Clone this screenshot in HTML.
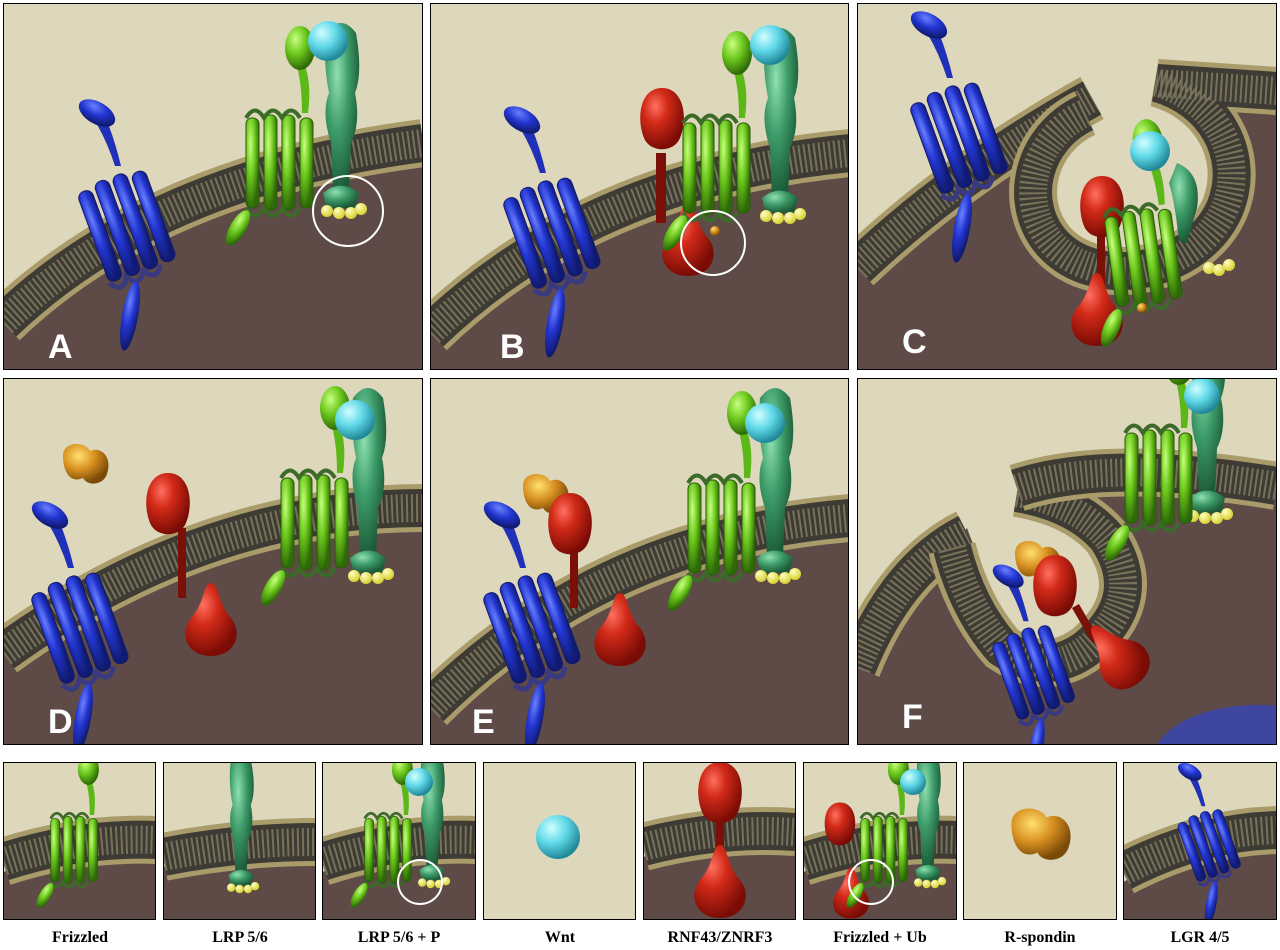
<!DOCTYPE html>
<html><head><meta charset="utf-8"><style>
body{margin:0;background:#fff;width:1280px;height:950px;overflow:hidden}
svg{display:block}
.mo{fill:none;stroke:#a99b6a;stroke-width:48;stroke-linecap:butt}
.mi{fill:none;stroke:#3d3b33;stroke-width:38;stroke-linecap:butt}
.md{fill:none;stroke:#77725a;stroke-width:28;stroke-dasharray:2 3}
.lab{font-family:"Liberation Serif",serif;font-weight:bold;font-size:16px;fill:#000}
.let{font-family:"Liberation Sans",sans-serif;font-weight:bold;font-size:34px;fill:#fff}
</style></head><body>
<svg width="1280" height="950" viewBox="0 0 1280 950">
<defs>
<radialGradient id="gr" cx="35%" cy="30%" r="70%"><stop offset="0" stop-color="#ff7060"/><stop offset=".4" stop-color="#d22a18"/><stop offset="1" stop-color="#7a0c05"/></radialGradient>
<radialGradient id="gb" cx="35%" cy="30%" r="70%"><stop offset="0" stop-color="#6a80ff"/><stop offset=".5" stop-color="#2235d0"/><stop offset="1" stop-color="#101a70"/></radialGradient>
<radialGradient id="gg" cx="35%" cy="30%" r="70%"><stop offset="0" stop-color="#c8ff80"/><stop offset=".5" stop-color="#6cc81c"/><stop offset="1" stop-color="#2e6a08"/></radialGradient>
<radialGradient id="gd" cx="35%" cy="30%" r="70%"><stop offset="0" stop-color="#90e0b0"/><stop offset=".5" stop-color="#3c9a68"/><stop offset="1" stop-color="#1c5a38"/></radialGradient>
<radialGradient id="gc" cx="35%" cy="30%" r="70%"><stop offset="0" stop-color="#d0ffff"/><stop offset=".5" stop-color="#60d8e8"/><stop offset="1" stop-color="#208898"/></radialGradient>
<radialGradient id="go" cx="35%" cy="30%" r="70%"><stop offset="0" stop-color="#ffe070"/><stop offset=".5" stop-color="#d89020"/><stop offset="1" stop-color="#7a4a08"/></radialGradient>
<radialGradient id="gy" cx="35%" cy="30%" r="70%"><stop offset="0" stop-color="#ffffc0"/><stop offset="1" stop-color="#d8d030"/></radialGradient>

<g id="lgr">
 <path d="M-30,-100 Q-18,-80 -10,-55 L-4,-55 Q-10,-80 -18,-100Z" fill="#2030b8"/>
 <ellipse cx="-28" cy="-108" rx="20" ry="11" transform="rotate(30 -28 -108)" fill="url(#gb)"/>
 <g transform="rotate(-20)">
  <rect x="-36" y="-42" width="15" height="95" rx="7" fill="url(#gb)" stroke="#141a6a"/>
  <rect x="-17" y="-46" width="15" height="100" rx="7" fill="url(#gb)" stroke="#141a6a"/>
  <rect x="2" y="-46" width="15" height="100" rx="7" fill="url(#gb)" stroke="#141a6a"/>
  <rect x="21" y="-42" width="15" height="95" rx="7" fill="url(#gb)" stroke="#141a6a"/>
  <path d="M-36,53 q10,15 18,0 q10,15 18,0 q10,15 18,0" fill="none" stroke="#3a3a80" stroke-width="5"/>
 </g>
 <ellipse cx="5" cy="95" rx="8" ry="35" fill="url(#gb)" transform="rotate(10 5 95)"/>
</g>
<g id="fzd">
 <path d="M26,-100 Q34,-80 30,-50 L24,-50 Q24,-80 18,-100Z" fill="#5cb818"/>
 <ellipse cx="22" cy="-115" rx="15" ry="22" fill="url(#gg)"/>
 <rect x="-32" y="-45" width="13" height="90" rx="6" fill="url(#gg)" stroke="#2a5a08"/>
 <rect x="-14" y="-48" width="13" height="95" rx="6" fill="url(#gg)" stroke="#2a5a08"/>
 <rect x="4" y="-48" width="13" height="95" rx="6" fill="url(#gg)" stroke="#2a5a08"/>
 <rect x="22" y="-45" width="13" height="90" rx="6" fill="url(#gg)" stroke="#2a5a08"/>
 <path d="M-32,-45 q9,-15 18,0 q9,-15 18,0 q9,-15 18,0 M-32,45 q9,15 18,0 q9,15 18,0 q9,15 18,0" fill="none" stroke="#3c6a28" stroke-width="4"/>
 <ellipse cx="-40" cy="65" rx="8" ry="20" fill="url(#gg)" transform="rotate(30 -40 65)"/>
</g>
<g id="lrp">
 <path d="M-15,-120 Q0,-140 15,-120 Q22,-80 14,-60 Q20,-30 10,-10 L8,40 L-8,40 L-10,-10 Q-20,-40 -12,-60 Q-18,-90 -15,-120Z" fill="url(#gd)"/>
 <path d="M-18,40 Q0,25 18,40 L14,55 L-14,55Z" fill="url(#gd)"/>
 <circle cx="-14" cy="58" r="6" fill="url(#gy)"/><circle cx="-2" cy="60" r="6" fill="url(#gy)"/><circle cx="10" cy="60" r="6" fill="url(#gy)"/><circle cx="20" cy="56" r="6" fill="url(#gy)"/>
</g>
<g id="rnfT"><path d="M0,-35 C22,-35 26,-5 18,15 C12,30 -12,30 -18,15 C-26,-5 -22,-35 0,-35Z" fill="url(#gr)"/></g>
<g id="rnfB"><path d="M0,-35 C8,-35 6,-15 20,0 C32,15 25,38 0,38 C-25,38 -32,15 -20,0 C-6,-15 -8,-35 0,-35Z" fill="url(#gr)"/></g>
<g id="rsp"><path d="M-22,-10 C-22,-25 0,-25 5,-15 C15,-20 28,-10 22,8 C18,20 2,20 -2,12 C-15,18 -22,5 -22,-10Z" fill="url(#go)"/></g>
</defs>

<!-- Panel A -->
<svg x="3" y="3" width="420" height="367">
 <rect width="420" height="367" fill="#ddd7bb"/>
 <path d="M0,320 Q150,175 420,140 L420,367 L0,367Z" fill="#5e4b48"/>
 <path class="mo" d="M0,320 Q150,175 420,140"/><path class="mi" d="M0,320 Q150,175 420,140"/><path class="md" d="M0,320 Q150,175 420,140"/>
 <use href="#lgr" x="122" y="218"/>
 <use href="#lrp" x="338" y="150"/>
 <use href="#fzd" x="275" y="160"/>
 <circle cx="325" cy="38" r="20" fill="url(#gc)"/>
 <circle cx="345" cy="208" r="35" fill="none" stroke="#fff" stroke-width="2"/>
 <text class="let" x="45" y="355">A</text>
</svg>
<rect x="3.5" y="3.5" width="419" height="366" fill="none" stroke="#000"/>

<!-- Panel B -->
<svg x="430" y="3" width="419" height="367">
 <rect width="420" height="367" fill="#ddd7bb"/>
 <path d="M0,330 Q160,175 420,150 L420,367 L0,367Z" fill="#5e4b48"/>
 <path class="mo" d="M0,330 Q160,175 420,150"/><path class="mi" d="M0,330 Q160,175 420,150"/><path class="md" d="M0,330 Q160,175 420,150"/>
 <use href="#lgr" x="120" y="225"/>
 <rect x="226" y="150" width="10" height="70" fill="#7a1008"/>
 <use href="#rnfT" x="232" y="120"/>
 <use href="#rnfB" x="258" y="235"/>
 <use href="#lrp" x="350" y="155"/>
 <use href="#fzd" x="285" y="165"/>
 <circle cx="340" cy="42" r="20" fill="url(#gc)"/>
 <circle cx="283" cy="240" r="32" fill="none" stroke="#fff" stroke-width="2"/>
 <circle cx="285" cy="228" r="5" fill="url(#go)"/>
 <text class="let" x="70" y="355">B</text>
</svg>
<rect x="430.5" y="3.5" width="418" height="366" fill="none" stroke="#000"/>

<!-- Panel C -->
<svg x="857" y="3" width="420" height="367">
 <rect width="420" height="367" fill="#5e4b48"/>
 <path d="M0,0 L420,0 L420,85 L300,70 C370,90 400,180 360,220 C310,265 220,260 180,210 C155,170 185,125 235,98 L0,262Z" fill="#ddd7bb"/>
 <path class="mo" d="M0,265 Q100,170 235,95"/><path class="mi" d="M0,265 Q100,170 235,95"/><path class="md" d="M0,265 Q100,170 235,95"/>
 <path class="mo" d="M228,110 C175,135 160,200 195,240 C240,290 340,270 368,205 C390,150 355,95 300,80 L420,88"/>
 <path class="mi" d="M228,110 C175,135 160,200 195,240 C240,290 340,270 368,205 C390,150 355,95 300,80 L420,88"/>
 <path class="md" d="M228,110 C175,135 160,200 195,240 C240,290 340,270 368,205 C390,150 355,95 300,80 L420,88"/>
 <use href="#lgr" x="100" y="130"/>
 <rect x="240" y="225" width="8" height="60" fill="#7a1008"/>
 <use href="#rnfT" x="245" y="208"/>
 <use href="#rnfB" x="240" y="305"/>
 <path d="M320,160 Q345,170 340,205 L330,240 L322,238 Q318,200 312,180Z" fill="url(#gd)"/>
 <use href="#fzd" x="285" y="255" transform="rotate(-8 285 255)"/>
 <circle cx="293" cy="148" r="20" fill="url(#gc)"/>
 <circle cx="352" cy="265" r="6" fill="url(#gy)"/><circle cx="362" cy="267" r="6" fill="url(#gy)"/><circle cx="372" cy="262" r="6" fill="url(#gy)"/>
 <circle cx="285" cy="305" r="5" fill="url(#go)"/>
 <text class="let" x="45" y="350">C</text>
</svg>
<rect x="857.5" y="3.5" width="419" height="366" fill="none" stroke="#000"/>

<!-- Panel D -->
<svg x="3" y="378" width="420" height="367">
 <rect width="420" height="367" fill="#ddd7bb"/>
 <path d="M0,275 Q200,130 420,130 L420,367 L0,367Z" fill="#5e4b48"/>
 <path class="mo" d="M0,275 Q200,130 420,130"/><path class="mi" d="M0,275 Q200,130 420,130"/><path class="md" d="M0,275 Q200,130 420,130"/>
 <use href="#rsp" x="82" y="88"/>
 <use href="#lgr" x="75" y="245"/>
 <rect x="175" y="150" width="8" height="70" fill="#7a1008"/>
 <use href="#rnfT" x="165" y="130"/>
 <use href="#rnfB" x="208" y="240"/>
 <use href="#lrp" x="365" y="140"/>
 <use href="#fzd" x="310" y="145"/>
 <circle cx="352" cy="42" r="20" fill="url(#gc)"/>
 <text class="let" x="45" y="355">D</text>
</svg>
<rect x="3.5" y="378.5" width="419" height="366" fill="none" stroke="#000"/>

<!-- Panel E -->
<svg x="430" y="378" width="419" height="367">
 <rect width="420" height="367" fill="#ddd7bb"/>
 <path d="M0,330 Q170,160 420,140 L420,367 L0,367Z" fill="#5e4b48"/>
 <path class="mo" d="M0,330 Q170,160 420,140"/><path class="mi" d="M0,330 Q170,160 420,140"/><path class="md" d="M0,330 Q170,160 420,140"/>
 <use href="#lgr" x="100" y="245"/>
 <use href="#rsp" x="115" y="118"/>
 <rect x="140" y="160" width="8" height="70" fill="#7a1008"/>
 <use href="#rnfT" x="140" y="150"/>
 <use href="#rnfB" x="190" y="250"/>
 <use href="#lrp" x="345" y="140"/>
 <use href="#fzd" x="290" y="150"/>
 <circle cx="335" cy="45" r="20" fill="url(#gc)"/>
 <text class="let" x="42" y="355">E</text>
</svg>
<rect x="430.5" y="378.5" width="418" height="366" fill="none" stroke="#000"/>

<!-- Panel F -->
<svg x="857" y="378" width="420" height="367">
 <rect width="420" height="367" fill="#5e4b48"/>
 <path d="M0,0 L420,0 L420,105 L300,85 L240,95 L160,110 C250,140 280,210 230,260 C200,285 160,260 140,230 L110,150 L0,270Z" fill="#ddd7bb"/>
 <path class="mo" d="M0,290 Q40,190 110,155"/><path class="mi" d="M0,290 Q40,190 110,155"/><path class="md" d="M0,290 Q40,190 110,155"/>
 <path class="mo" d="M95,170 Q110,230 145,270 Q190,300 230,270 Q290,220 250,160 Q220,125 160,115"/>
 <path class="mi" d="M95,170 Q110,230 145,270 Q190,300 230,270 Q290,220 250,160 Q220,125 160,115"/>
 <path class="md" d="M95,170 Q110,230 145,270 Q190,300 230,270 Q290,220 250,160 Q220,125 160,115"/>
 <path class="mo" d="M160,110 Q250,80 420,108"/><path class="mi" d="M160,110 Q250,80 420,108"/><path class="md" d="M160,110 Q250,80 420,108"/>
 <use href="#rsp" x="180" y="185"/>
 <use href="#rnfT" x="198" y="212"/>
 <rect x="215" y="230" width="8" height="40" fill="#7a1008" transform="rotate(-30 215 230)"/>
 <use href="#rnfB" x="258" y="275" transform="rotate(-40 258 275)"/>
 <g transform="translate(175,290) scale(0.85)"><use href="#lgr" x="0" y="0"/></g>
 <use href="#lrp" x="350" y="80"/>
 <use href="#fzd" x="300" y="100"/>
 <circle cx="345" cy="18" r="18" fill="url(#gc)"/>
 <path d="M300,367 Q320,335 380,328 Q420,325 420,330 L420,367Z" fill="#3e46a0"/>
 <text class="let" x="45" y="350">F</text>
</svg>
<rect x="857.5" y="378.5" width="419" height="366" fill="none" stroke="#000"/>

<!-- Bottom row -->
<svg x="3" y="762" width="153" height="158"><rect width="153" height="158" fill="#ddd7bb"/><path d="M0,110 Q76,85 153,88 L153,158 L0,158Z" fill="#5e4b48"/><path class="mo" d="M0,100 Q76,75 153,78"/><path class="mi" d="M0,100 Q76,75 153,78"/><path class="md" d="M0,100 Q76,75 153,78"/><g transform="translate(70,88) scale(0.7)"><use href="#fzd"/></g></svg>
<svg x="163" y="762" width="153" height="158"><rect width="153" height="158" fill="#ddd7bb"/><path d="M0,105 Q76,90 153,90 L153,158 L0,158Z" fill="#5e4b48"/><path class="mo" d="M0,95 Q76,80 153,80"/><path class="mi" d="M0,95 Q76,80 153,80"/><path class="md" d="M0,95 Q76,80 153,80"/><g transform="translate(78,85) scale(0.7)"><use href="#lrp"/></g></svg>
<svg x="322" y="762" width="154" height="158"><rect width="154" height="158" fill="#ddd7bb"/><path d="M0,110 Q76,85 154,88 L154,158 L0,158Z" fill="#5e4b48"/><path class="mo" d="M0,100 Q76,75 154,78"/><path class="mi" d="M0,100 Q76,75 154,78"/><path class="md" d="M0,100 Q76,75 154,78"/><g transform="translate(110,80) scale(0.7)"><use href="#lrp"/></g><g transform="translate(65,88) scale(0.7)"><use href="#fzd"/></g><circle cx="97" cy="20" r="14" fill="url(#gc)"/><circle cx="98" cy="120" r="22" fill="none" stroke="#fff" stroke-width="2"/></svg>
<svg x="483" y="762" width="153" height="158"><rect width="153" height="158" fill="#ddd7bb"/><circle cx="75" cy="75" r="22" fill="url(#gc)"/></svg>
<svg x="643" y="762" width="153" height="158"><rect width="153" height="158" fill="#ddd7bb"/><path d="M0,95 Q76,75 153,80 L153,158 L0,158Z" fill="#5e4b48"/><path class="mo" d="M0,85 Q76,65 153,70"/><path class="mi" d="M0,85 Q76,65 153,70"/><path class="md" d="M0,85 Q76,65 153,70"/><rect x="73" y="40" width="8" height="70" fill="#7a1008"/><use href="#rnfT" x="77" y="35"/><use href="#rnfB" x="77" y="118"/></svg>
<svg x="803" y="762" width="154" height="158"><rect width="154" height="158" fill="#ddd7bb"/><path d="M0,110 Q76,85 154,88 L154,158 L0,158Z" fill="#5e4b48"/><path class="mo" d="M0,100 Q76,75 154,78"/><path class="mi" d="M0,100 Q76,75 154,78"/><path class="md" d="M0,100 Q76,75 154,78"/><g transform="translate(37,65) scale(0.7)"><use href="#rnfT"/></g><g transform="translate(48,130) scale(0.7)"><use href="#rnfB"/></g><g transform="translate(125,80) scale(0.7)"><use href="#lrp"/></g><g transform="translate(80,88) scale(0.7)"><use href="#fzd"/></g><circle cx="110" cy="20" r="13" fill="url(#gc)"/><circle cx="68" cy="120" r="22" fill="none" stroke="#fff" stroke-width="2"/></svg>
<svg x="963" y="762" width="154" height="158"><rect width="154" height="158" fill="#ddd7bb"/><g transform="translate(77,75) scale(1.3)"><use href="#rsp"/></g></svg>
<svg x="1123" y="762" width="154" height="158"><rect width="154" height="158" fill="#ddd7bb"/><path d="M0,120 Q76,80 154,78 L154,158 L0,158Z" fill="#5e4b48"/><path class="mo" d="M0,110 Q76,70 154,68"/><path class="mi" d="M0,110 Q76,70 154,68"/><path class="md" d="M0,110 Q76,70 154,68"/><g transform="translate(85,80) scale(0.65)"><use href="#lgr"/></g></svg>
<g fill="none" stroke="#000">
<rect x="3.5" y="762.5" width="152" height="157"/><rect x="163.5" y="762.5" width="152" height="157"/><rect x="322.5" y="762.5" width="153" height="157"/><rect x="483.5" y="762.5" width="152" height="157"/><rect x="643.5" y="762.5" width="152" height="157"/><rect x="803.5" y="762.5" width="153" height="157"/><rect x="963.5" y="762.5" width="153" height="157"/><rect x="1123.5" y="762.5" width="153" height="157"/>
</g>
<g text-anchor="middle">
<text class="lab" x="80" y="942">Frizzled</text>
<text class="lab" x="240" y="942">LRP 5/6</text>
<text class="lab" x="399" y="942">LRP 5/6 + P</text>
<text class="lab" x="560" y="942">Wnt</text>
<text class="lab" x="720" y="942">RNF43/ZNRF3</text>
<text class="lab" x="880" y="942">Frizzled + Ub</text>
<text class="lab" x="1040" y="942">R-spondin</text>
<text class="lab" x="1200" y="942">LGR 4/5</text>
</g>
</svg>
</body></html>
